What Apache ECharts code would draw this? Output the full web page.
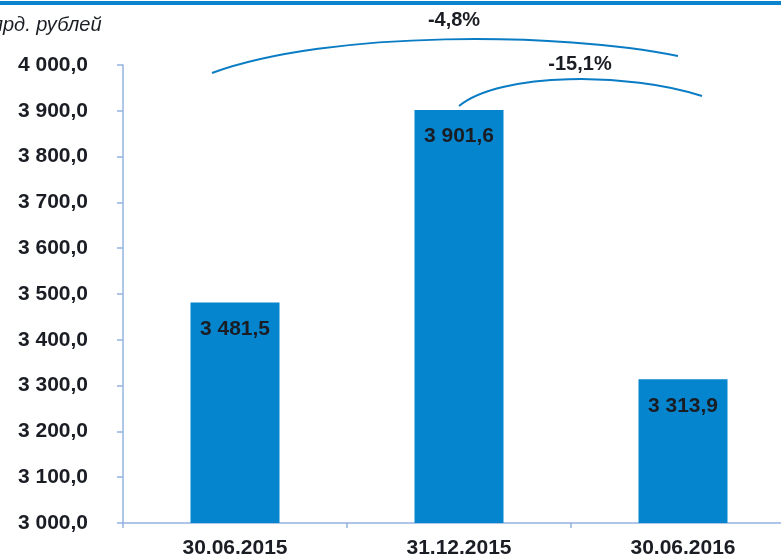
<!DOCTYPE html>
<html>
<head>
<meta charset="utf-8">
<script src="https://cdn.jsdelivr.net/npm/echarts@6/dist/echarts.min.js"></script>
<style>
  html, body { margin: 0; padding: 0; background: #fff; }
  #main { width: 781px; height: 557px; }
</style>
</head>
<body>
<div id="main"></div>
<script>
var categories = ['30.06.2015', '31.12.2015', '30.06.2016'];
var values = [3481.5, 3901.6, 3313.9];
var changeLabels = ['-4,8%', '-15,1%'];
var unitLabel = 'млрд. рублей';

function fmt(v) {
  var parts = v.toFixed(1).split('.');
  var intPart = parts[0].replace(/\B(?=(\d{3})+(?!\d))/g, ' ');
  return intPart + ',' + parts[1];
}

var blue = '#0585cd';
var axisBlue = '#94b3df';
var dark = '#1a1d24';
var font = 'Liberation Sans, Arial, sans-serif';

var myChart = echarts.init(document.getElementById('main'));
var option = {
  animation: false,
  // ось X уходит за правый край картинки
  grid: { left: 123, width: 672, top: 65, bottom: 34, outerBoundsMode: 'none' },
  xAxis: {
    type: 'category',
    data: categories,
    axisLine: { lineStyle: { color: axisBlue, width: 1.5 } },
    axisTick: { show: true, length: 5, lineStyle: { color: axisBlue, width: 1.5 } },
    axisLabel: {
      margin: 15,
      color: dark,
      fontFamily: font,
      fontWeight: 'bold',
      fontSize: 21
    }
  },
  yAxis: {
    type: 'value',
    min: 3000,
    max: 4000,
    interval: 100,
    splitLine: { show: false },
    axisLine: { show: true, lineStyle: { color: axisBlue, width: 1.5 } },
    axisTick: { show: true, length: 6, lineStyle: { color: axisBlue, width: 1.5 } },
    axisLabel: {
      margin: 35,
      color: dark,
      fontFamily: font,
      fontWeight: 'bold',
      fontSize: 21,
      formatter: function (v) { return fmt(v); }
    }
  },
  series: [{
    type: 'bar',
    data: values,
    barWidth: 89,
    itemStyle: { color: blue },
    label: {
      show: true,
      position: 'insideTop',
      distance: 16,
      color: dark,
      fontFamily: font,
      fontWeight: 'bold',
      fontSize: 21,
      formatter: function (p) { return fmt(p.value); }
    }
  }],
  graphic: [
    // синяя полоса сверху
    { type: 'rect', left: 0, top: 1, shape: { width: 781, height: 4 }, style: { fill: '#0a84cc' }, silent: true },
    {
      type: 'text', left: -22, top: 15,
      style: { text: unitLabel, fill: dark, font: 'italic 20px ' + font }
    },
    // дуги изменений
    {
      type: 'bezierCurve',
      shape: { x1: 212, y1: 73, cpx1: 330, cpy1: 30, cpx2: 560, cpy2: 32, x2: 678, y2: 56 },
      style: { stroke: '#0a7cc4', lineWidth: 2, fill: null }
    },
    {
      type: 'bezierCurve',
      shape: { x1: 459, y1: 106, cpx1: 500, cpy1: 72, cpx2: 630, cpy2: 72, x2: 702, y2: 96 },
      style: { stroke: '#0a7cc4', lineWidth: 2, fill: null }
    },
    {
      type: 'text', x: 454, y: 20,
      style: { text: changeLabels[0], fill: dark, font: 'bold 20px ' + font, align: 'center', verticalAlign: 'middle' }
    },
    {
      type: 'text', x: 580, y: 64,
      style: { text: changeLabels[1], fill: dark, font: 'bold 20px ' + font, align: 'center', verticalAlign: 'middle' }
    }
  ]
};
myChart.setOption(option);
</script>
</body>
</html>
